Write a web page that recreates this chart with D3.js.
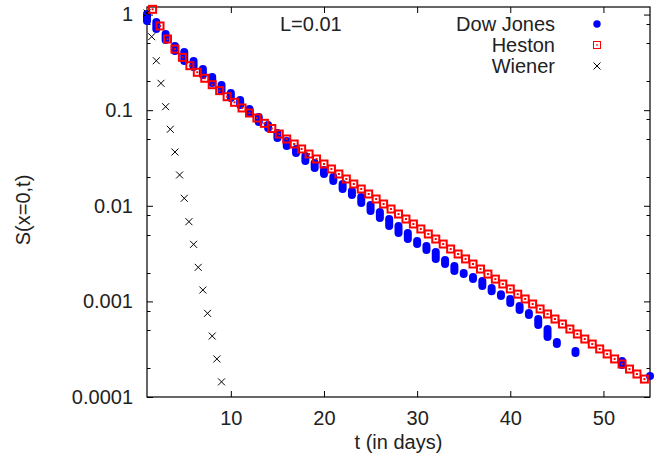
<!DOCTYPE html>
<html>
<head>
<meta charset="utf-8">
<script src="https://cdn.jsdelivr.net/npm/d3@7"></script>
<style>
  html, body { margin: 0; padding: 0; background: #fff; }
  svg { display: block; }
  text { font-family: "Liberation Sans", Arial, Helvetica, sans-serif; fill: #222; }
</style>
</head>
<body>
<div id="chart"></div>
<script>
// Dow Jones: one streak per day (several observations per day -> high / low)
const dowDays = [1, 2, 3, 4, 5, 6, 7, 8, 9, 10, 11, 12, 13, 14, 15, 16, 17, 18, 19, 20,
  21, 22, 23, 24, 25, 26, 27, 28, 29, 30, 31, 32, 33, 34, 35, 36, 37, 38, 39, 40,
  41, 42, 43, 44, 45, 47, 52, 55];
const dowHigh = [1.014, 0.836, 0.626, 0.469, 0.406, 0.327, 0.270, 0.222, 0.1834, 0.1512,
  0.1278, 0.1029, 0.0848, 0.0700, 0.0577, 0.0476, 0.0393, 0.0332, 0.0280, 0.0237,
  0.0200, 0.0169, 0.01427, 0.01235, 0.01019, 0.00861, 0.00727, 0.00614, 0.00519, 0.00428,
  0.00379, 0.00328, 0.00271, 0.00234, 0.00198, 0.00180, 0.00163, 0.00138, 0.00119, 0.00106,
  0.000895, 0.000756, 0.000654, 0.000514, 0.000376, 0.000303, 0.000238, 0.000166];
const dowLow = [0.857, 0.707, 0.542, 0.416, 0.327, 0.283, 0.233, 0.192, 0.1586, 0.1341,
  0.1133, 0.0934, 0.0752, 0.0651, 0.0512, 0.0422, 0.0356, 0.0294, 0.0248, 0.0215,
  0.0182, 0.0150, 0.01296, 0.01069, 0.00882, 0.00745, 0.00614, 0.00519, 0.00449, 0.00398,
  0.00345, 0.00277, 0.00246, 0.00208, 0.00193, 0.00171, 0.00145, 0.00128, 0.00114, 0.000962,
  0.000812, 0.000720, 0.000566, 0.000424, 0.000358, 0.000288, 0.000216, 0.000166];

// Heston
const hestonT = [1.6, 2.4, 3.2, 4.0, 4.8, 5.6, 6.4, 7.2, 8.0, 8.8, 9.6, 10.4, 11.2, 12.0,
  12.8, 13.6, 14.4, 15.2, 16.0, 16.8, 17.6, 18.4, 19.2, 20.0, 20.8, 21.6, 22.4, 23.2,
  24.0, 24.8, 25.6, 26.4, 27.2, 28.0, 28.8, 29.6, 30.4, 31.2, 32.0, 32.8, 33.6, 34.4,
  35.2, 36.0, 36.8, 37.6, 38.4, 39.2, 40.0, 40.8, 41.6, 42.4, 43.2, 44.0, 44.8, 45.6,
  46.4, 47.2, 48.0, 48.8, 49.6, 50.4, 51.2, 52.0, 52.8, 53.6, 54.4];
const hestonS = [1.135, 0.760, 0.555, 0.436, 0.357, 0.292, 0.249, 0.2156, 0.1847, 0.160,
  0.1383, 0.1209, 0.1054, 0.0934, 0.0828, 0.0729, 0.0643, 0.0563, 0.04995, 0.04428,
  0.03926, 0.03480, 0.03086, 0.02735, 0.02425, 0.02150, 0.01906, 0.01690, 0.01498, 0.01328,
  0.01177, 0.01044, 0.00925, 0.00820, 0.00727, 0.00645, 0.00572, 0.00507, 0.00449, 0.00398,
  0.00353, 0.00313, 0.00278, 0.00246, 0.00218, 0.00193, 0.00171, 0.00152, 0.00135, 0.00119,
  0.00106, 0.000939, 0.000833, 0.000738, 0.000654, 0.000580, 0.000514, 0.000456, 0.000404,
  0.000358, 0.000318, 0.000282, 0.000250, 0.000221, 0.000196, 0.000174, 0.000154];

// Wiener
const wienerT = [1, 1.5, 2, 2.5, 3, 3.5, 4, 4.5, 5, 5.5, 6, 6.5, 7, 7.5, 8, 8.5, 9];
const wienerS = [1.038, 0.587, 0.329, 0.1911, 0.1087, 0.0631, 0.0365, 0.0210, 0.01198,
  0.00682, 0.00395, 0.00227, 0.001315, 0.000750, 0.000434, 0.000250, 0.000144];

const xTicks = [10, 20, 30, 40, 50];
const yTicks = [1, 0.1, 0.01, 0.001, 0.0001];
const yTickLabels = ['1', '0.1', '0.01', '0.001', '0.0001'];
const yMinorFactors = [2, 5, 8];
const seriesNames = ['Dow Jones', 'Heston', 'Wiener'];
const annotation = 'L=0.01';

const width = 665, height = 464;
const margin = { top: 7, right: 15, bottom: 67, left: 147 };
const innerW = width - margin.left - margin.right;
const innerH = height - margin.top - margin.bottom;

const x = d3.scaleLinear().domain([1, 55]).range([0, innerW]);
const y = d3.scaleLog().domain([1e-4, 1.2]).range([innerH, 0]);

const svg = d3.select('#chart').append('svg')
  .attr('width', width)
  .attr('height', height);
const g = svg.append('g').attr('transform', `translate(${margin.left},${margin.top})`);

// --- ticks (inward, mirrored) ---
const tickStyle = sel => {
  sel.select('.domain').remove();
  sel.selectAll('line').attr('stroke', '#000').attr('stroke-width', 1);
  sel.selectAll('text').attr('font-size', '20px').attr('fill', '#222')
    .attr('font-family', '"Liberation Sans", Arial, sans-serif');
};
g.append('g').attr('transform', `translate(0,${innerH})`)
  .call(d3.axisBottom(x).tickValues(xTicks).tickSizeInner(-6).tickSizeOuter(0).tickPadding(14))
  .call(tickStyle);
g.append('g')
  .call(d3.axisTop(x).tickValues(xTicks).tickSizeInner(-6).tickSizeOuter(0).tickFormat(''))
  .call(tickStyle);
g.append('g')
  .call(d3.axisLeft(y).tickValues(yTicks).tickFormat((d, i) => yTickLabels[i])
    .tickSizeInner(-6).tickSizeOuter(0).tickPadding(14))
  .call(tickStyle);
g.append('g').attr('transform', `translate(${innerW},0)`)
  .call(d3.axisRight(y).tickValues(yTicks).tickSizeInner(-6).tickSizeOuter(0).tickFormat(''))
  .call(tickStyle);

// minor log ticks
const minor = [];
yTicks.forEach(d => yMinorFactors.forEach(f => { if (d * f <= 1.2 && d < 1) minor.push(d * f); }));
[0, innerW].forEach((x0, k) => {
  g.append('g').selectAll('line').data(minor).join('line')
    .attr('x1', x0).attr('x2', k === 0 ? x0 + 3.5 : x0 - 3.5)
    .attr('y1', d => Math.round(y(d)) + 0.5).attr('y2', d => Math.round(y(d)) + 0.5)
    .attr('stroke', '#000').attr('stroke-width', 1);
});

// frame
g.append('rect')
  .attr('x', 0).attr('y', 0).attr('width', innerW).attr('height', innerH)
  .attr('fill', 'none').attr('stroke', '#000').attr('stroke-width', 1.2);

// --- Dow Jones ---
g.append('g').selectAll('line')
  .data(dowDays)
  .join('line')
  .attr('x1', d => x(d)).attr('x2', d => x(d))
  .attr('y1', (d, i) => y(dowHigh[i]))
  .attr('y2', (d, i) => y(dowLow[i]))
  .attr('stroke', '#0000ff')
  .attr('stroke-width', 8)
  .attr('stroke-linecap', 'round');

// --- Heston ---
const hs = g.append('g').selectAll('g')
  .data(hestonT)
  .join('g')
  .attr('transform', (d, i) => `translate(${x(d)},${y(hestonS[i])})`);
hs.append('rect')
  .attr('x', -3.5).attr('y', -3.5).attr('width', 7).attr('height', 7)
  .attr('fill', 'none').attr('stroke', '#ff0000').attr('stroke-width', 2);
hs.append('rect')
  .attr('x', -1).attr('y', -1).attr('width', 2).attr('height', 2)
  .attr('fill', '#ff0000');

// --- Wiener ---
const cross = 'M-3.5,-3.5L3.5,3.5M-3.5,3.5L3.5,-3.5';
g.append('g').selectAll('path')
  .data(wienerT)
  .join('path')
  .attr('transform', (d, i) => `translate(${x(d)},${y(wienerS[i])})`)
  .attr('d', cross)
  .attr('stroke', '#000')
  .attr('stroke-width', 1)
  .attr('fill', 'none');

// --- annotation ---
g.append('text')
  .attr('x', 133).attr('y', 24)
  .attr('font-size', '20px')
  .text(annotation);

// --- legend ---
const legend = g.append('g').attr('transform', `translate(${innerW - 95},0)`);
seriesNames.forEach((name, i) => {
  const row = legend.append('g').attr('transform', `translate(0,${17 + i * 21})`);
  row.append('text')
    .attr('x', 0).attr('y', 7)
    .attr('text-anchor', 'end')
    .attr('font-size', '20px')
    .text(name);
  const sx = 42;
  if (i === 0) {
    row.append('circle').attr('cx', sx).attr('cy', 0).attr('r', 3.7).attr('fill', '#0000ff');
  } else if (i === 1) {
    row.append('rect').attr('x', sx - 3.5).attr('y', -3.5).attr('width', 7).attr('height', 7)
      .attr('fill', 'none').attr('stroke', '#ff0000').attr('stroke-width', 1);
    row.append('rect').attr('x', sx - 0.75).attr('y', -0.75).attr('width', 1.5).attr('height', 1.5)
      .attr('fill', '#ff0000');
  } else {
    row.append('path').attr('transform', `translate(${sx},0)`).attr('d', cross)
      .attr('stroke', '#000').attr('stroke-width', 1).attr('fill', 'none');
  }
});

// --- axis titles ---
svg.append('text')
  .attr('x', margin.left + innerW / 2).attr('y', 449)
  .attr('text-anchor', 'middle')
  .attr('font-size', '20px')
  .text('t (in days)');
svg.append('text')
  .attr('transform', `translate(30,${margin.top + innerH / 2 + 8}) rotate(-90)`)
  .attr('text-anchor', 'middle')
  .attr('font-size', '20px')
  .text('S(x=0,t)');
</script>
</body>
</html>
